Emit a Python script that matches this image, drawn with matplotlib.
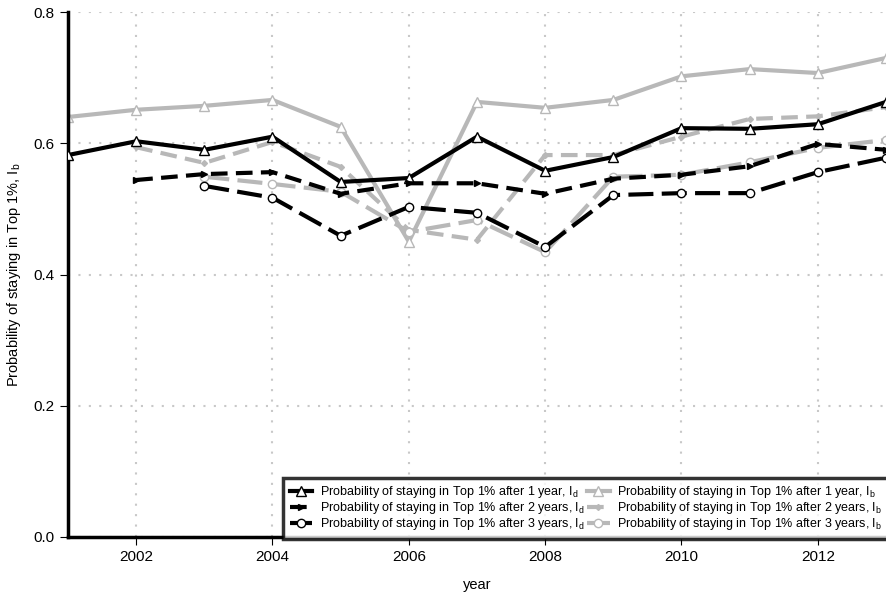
import matplotlib
matplotlib.use("Agg")
import matplotlib.pyplot as plt

plt.rcParams['font.family'] = ['Liberation Sans', 'DejaVu Sans']

years = list(range(2001, 2014))
yrs2 = list(range(2002, 2014))
yrs3 = list(range(2003, 2014))

d1 = [0.582, 0.603, 0.590, 0.610, 0.541, 0.547, 0.610, 0.558, 0.579, 0.623, 0.622, 0.629, 0.663]
b1 = [0.640, 0.651, 0.657, 0.666, 0.625, 0.450, 0.663, 0.654, 0.666, 0.702, 0.713, 0.707, 0.730]
d2 = [0.544, 0.553, 0.556, 0.523, 0.539, 0.539, 0.523, 0.546, 0.552, 0.565, 0.599, 0.590]
b2 = [0.594, 0.570, 0.602, 0.564, 0.468, 0.453, 0.582, 0.582, 0.610, 0.637, 0.641, 0.655]
d3 = [0.535, 0.517, 0.459, 0.503, 0.494, 0.442, 0.521, 0.524, 0.524, 0.556, 0.578]
b3 = [0.549, 0.538, 0.526, 0.465, 0.483, 0.434, 0.549, 0.552, 0.571, 0.593, 0.605]

gray = '#b8b8b8'
fig = plt.figure(figsize=(8.86, 5.93), dpi=100)
ax = fig.add_axes([68/886, 1-537/593, 818/886, 525/593])

ax.plot(years, b1, color=gray, lw=3, marker='^', ms=7, mfc='white', mec=gray, label='Probability of staying in Top 1% after 1 year, I$_\\mathregular{b}$', zorder=2)
ax.plot(yrs2, b2, color=gray, lw=3, ls=(0, (4, 2)), marker='D', ms=3, label='Probability of staying in Top 1% after 2 years, I$_\\mathregular{b}$', zorder=2)
ax.plot(yrs3, b3, color=gray, lw=3, ls=(0, (6, 2)), marker='o', ms=6, mfc='white', mec=gray, label='Probability of staying in Top 1% after 3 years, I$_\\mathregular{b}$', zorder=2)
ax.plot(years, d1, color='black', lw=3, marker='^', ms=7, mfc='white', mec='black', label='Probability of staying in Top 1% after 1 year, I$_\\mathregular{d}$', zorder=3)
ax.plot(yrs2, d2, color='black', lw=3, ls=(0, (4, 2)), marker='>', ms=4, label='Probability of staying in Top 1% after 2 years, I$_\\mathregular{d}$', zorder=3)
ax.plot(yrs3, d3, color='black', lw=3, ls=(0, (6, 2)), marker='o', ms=6, mfc='white', mec='black', label='Probability of staying in Top 1% after 3 years, I$_\\mathregular{d}$', zorder=3)

ax.set_xlim(2001, 2013)
ax.set_ylim(0, 0.8)
ax.set_xticks(range(2002, 2013, 2))
ax.set_yticks([0, 0.2, 0.4, 0.6, 0.8])
ax.set_yticklabels(['0.0', '0.2', '0.4', '0.6', '0.8'])
ax.grid(True, color='#c8c8c8', ls=(0, (1, 4)), lw=1.5)
ax.set_axisbelow(True)
for s in ['top', 'right']:
    ax.spines[s].set_visible(False)
for s in ['left', 'bottom']:
    ax.spines[s].set_linewidth(2.5)
ax.tick_params(labelsize=11, length=6)
ax.set_xlabel('year', fontsize=10.5, labelpad=10)
ax.set_ylabel('Probability of staying in Top 1%, I$_\\mathregular{b}$', fontsize=10.5, labelpad=8)

h, l = ax.get_legend_handles_labels()
order = [3, 4, 5, 0, 1, 2]
leg = ax.legend([h[i] for i in order], [l[i] for i in order], ncol=2, loc='lower right',
                bbox_to_anchor=(1.003, -0.003), fontsize=9, frameon=True, fancybox=False,
                edgecolor='black', handlelength=1.8, handletextpad=0.6, columnspacing=0.2,
                labelspacing=0.0, borderpad=0.5, borderaxespad=0)
leg.get_frame().set_linewidth(2.5)

fig.savefig('out.png', dpi=100)
